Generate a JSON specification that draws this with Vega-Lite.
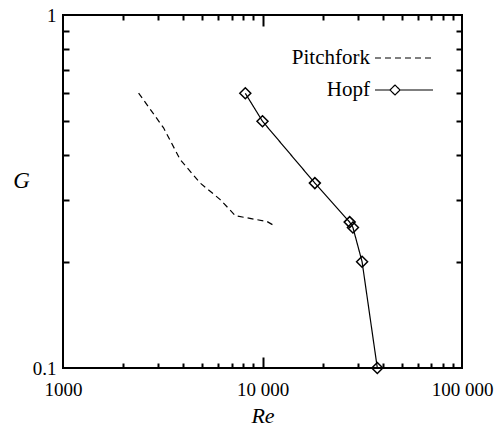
{
  "$schema": "https://vega.github.io/schema/vega-lite/v6.json",
  "width": 399,
  "height": 353,
  "autosize": {"type": "none"},
  "padding": {"left": 63, "top": 15, "right": 34, "bottom": 62},
  "background": "white",
  "config": {
    "view": {"stroke": "black", "strokeWidth": 2},
    "font": "Liberation Serif",
    "axis": {
      "grid": false,
      "domain": false,
      "labelFont": "Liberation Serif",
      "titleFont": "Liberation Serif",
      "labelColor": "black",
      "titleColor": "black",
      "tickColor": "black",
      "tickWidth": 2,
      "labelFlush": false,
      "labelOverlap": false
    }
  },
  "data": {
    "values": [
      {"series": "Pitchfork", "Re": 2393, "G": 0.601},
      {"series": "Pitchfork", "Re": 3192, "G": 0.479},
      {"series": "Pitchfork", "Re": 3872, "G": 0.389},
      {"series": "Pitchfork", "Re": 4877, "G": 0.334},
      {"series": "Pitchfork", "Re": 6138, "G": 0.300},
      {"series": "Pitchfork", "Re": 7310, "G": 0.270},
      {"series": "Pitchfork", "Re": 10535, "G": 0.260},
      {"series": "Pitchfork", "Re": 11590, "G": 0.252},
      {"series": "Hopf", "Re": 8200, "G": 0.6},
      {"series": "Hopf", "Re": 10000, "G": 0.5},
      {"series": "Hopf", "Re": 18300, "G": 0.334},
      {"series": "Hopf", "Re": 27350, "G": 0.259},
      {"series": "Hopf", "Re": 28400, "G": 0.25},
      {"series": "Hopf", "Re": 31560, "G": 0.2},
      {"series": "Hopf", "Re": 37630, "G": 0.1}
    ]
  },
  "layer": [
    {
      "mark": {"type": "line", "color": "black", "strokeWidth": 1.2},
      "encoding": {
        "x": {
          "field": "Re", "type": "quantitative",
          "scale": {"type": "log", "domain": [1000, 100000], "nice": false},
          "axis": {
            "orient": "bottom",
            "values": [1000, 10000, 100000],
            "ticks": false,
            "labelExpr": "datum.value === 1000 ? '1000' : datum.value === 10000 ? '10 000' : '100 000'",
            "labelFontSize": 19,
            "labelPadding": 12,
            "title": "Re",
            "titleFontStyle": "italic",
            "titleFontWeight": "normal",
            "titleFontSize": 22,
            "titlePadding": 6
          }
        },
        "y": {
          "field": "G", "type": "quantitative",
          "scale": {"type": "log", "domain": [0.1, 1], "nice": false},
          "axis": {
            "orient": "left",
            "values": [0.1, 1],
            "ticks": false,
            "labelExpr": "datum.value === 1 ? '1' : '0.1'",
            "labelFontSize": 19,
            "labelPadding": 7,
            "title": "G",
            "titleFontStyle": "italic",
            "titleFontWeight": "normal",
            "titleFontSize": 23,
            "titleAngle": 0,
            "titleAlign": "center",
            "titleBaseline": "middle",
            "titleX": -42,
            "titleY": 165
          }
        },
        "strokeDash": {
          "field": "series", "type": "nominal",
          "scale": {"domain": ["Pitchfork", "Hopf"], "range": [[6, 4], [1, 0]]},
          "legend": {
            "orient": "none",
            "legendX": 330,
            "legendY": 32,
            "title": null,
            "padding": 0,
            "symbolType": "stroke",
            "symbolSize": 400,
            "symbolStrokeWidth": 1.2,
            "symbolStrokeColor": "black",
            "symbolFillColor": "transparent",
            "labelFont": "Liberation Serif",
            "labelFontSize": 21,
            "labelColor": "black",
            "labelAlign": "right",
            "labelOffset": -45,
            "rowPadding": 11,
            "encode": {
              "symbols": {
                "update": {
                  "shape": {"signal": "datum.value === 'Hopf' ? 'M-2.9,0L-1.4,0L-0.9,-0.5L-0.4,0L-0.9,0.5L-1.4,0M-0.4,0L2.9,0' : 'M-2.9,0L2.9,0'"},
                  "fill": {"value": "transparent"},
                  "stroke": {"value": "black"}
                }
              }
            }
          }
        }
      }
    },
    {
      "transform": [{"filter": "datum.series === 'Hopf'"}],
      "mark": {"type": "point", "shape": "diamond", "filled": false, "color": "black", "size": 121, "strokeWidth": 1.5, "opacity": 1},
      "encoding": {
        "x": {
          "field": "Re", "type": "quantitative",
          "axis": {
            "orient": "bottom",
            "values": [2000, 3000, 4000, 5000, 6000, 7000, 8000, 9000, 10000, 20000, 30000, 40000, 50000, 60000, 70000, 80000, 90000],
            "labels": false,
            "title": null,
            "tickSize": {"condition": {"test": "datum.value === 10000", "value": -11}, "value": -5}
          }
        },
        "y": {
          "field": "G", "type": "quantitative",
          "axis": {
            "orient": "left",
            "values": [0.2, 0.3, 0.4, 0.5, 0.6, 0.7, 0.8, 0.9],
            "labels": false,
            "title": null,
            "tickSize": -6
          }
        }
      }
    },
    {
      "transform": [{"filter": "datum.series === 'Hopf'"}],
      "mark": {"type": "point", "shape": "diamond", "filled": false, "color": "black", "size": 121, "opacity": 0},
      "encoding": {
        "x": {
          "field": "Re", "type": "quantitative",
          "axis": {
            "orient": "top",
            "values": [2000, 3000, 4000, 5000, 6000, 7000, 8000, 9000, 10000, 20000, 30000, 40000, 50000, 60000, 70000, 80000, 90000],
            "labels": false,
            "title": null,
            "tickSize": {"condition": {"test": "datum.value === 10000", "value": -11}, "value": -5}
          }
        },
        "y": {
          "field": "G", "type": "quantitative",
          "axis": {
            "orient": "right",
            "values": [0.2, 0.3, 0.4, 0.5, 0.6, 0.7, 0.8, 0.9],
            "labels": false,
            "title": null,
            "tickSize": -6
          }
        }
      }
    }
  ],
  "resolve": {"axis": {"x": "independent", "y": "independent"}}
}
